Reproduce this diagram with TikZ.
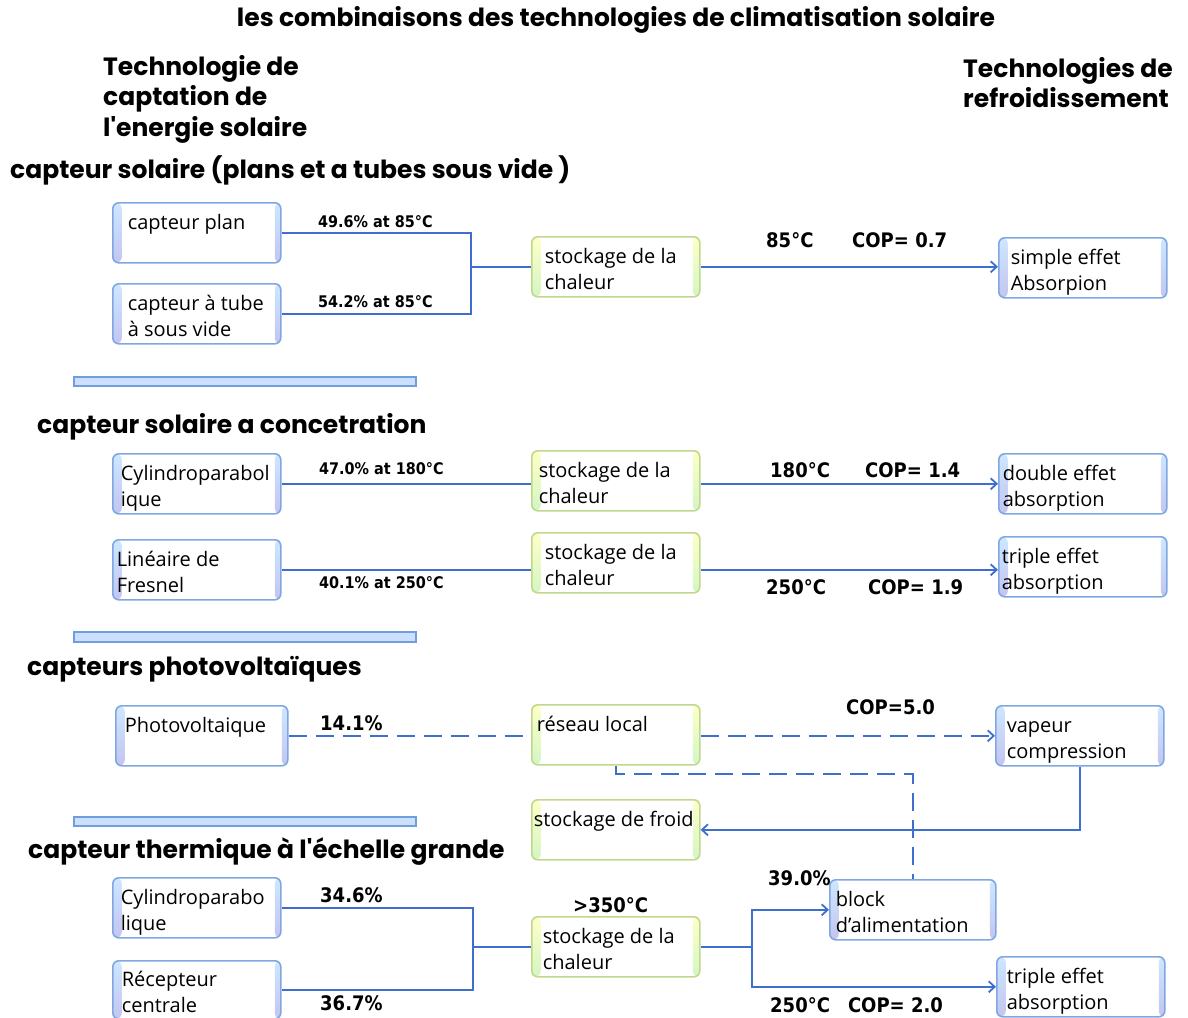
\documentclass[tikz,border=0pt]{standalone}
\usepackage{fontspec}
\setmainfont{Open Sans}
\newfontfamily\headfont{Poppins}
\newfontfamily\labfont{DejaVu Sans}[FakeStretch=0.9]
\usetikzlibrary{arrows.meta}
\definecolor{lnblue}{HTML}{3E6FCF}
\definecolor{bxblue}{HTML}{7FA8E2}
\definecolor{stripA}{HTML}{CDE7FF}
\definecolor{stripB}{HTML}{C4C4F0}
\definecolor{bxgreen}{HTML}{BFD98A}
\definecolor{gstripA}{HTML}{FFFFC8}
\definecolor{gstripB}{HTML}{D3F5C4}
\definecolor{sepfill}{HTML}{CCDFFF}
\definecolor{sepdraw}{HTML}{6E9FDA}
\newcommand\bxt[2][0pt]{\parbox[c][56pt][t]{164pt}{\raggedright\leftskip=#1\rule{0pt}{25pt}#2}}
\tikzset{
  boxbase/.style={line width=1.6pt, rounded corners=6pt, fill=white,
    minimum width=168pt, minimum height=60pt, inner sep=0pt, anchor=north west,
    font=\fontsize{20}{26}\selectfont},
  bbox/.style={boxbase, draw=bxblue,
    path picture={
      \shade[top color=stripA, bottom color=stripB] (path picture bounding box.north west) rectangle ([xshift=9pt]path picture bounding box.south west);
      \shade[top color=stripA, bottom color=stripB] ([xshift=-6pt]path picture bounding box.north east) rectangle (path picture bounding box.south east);
    }},
  gbox/.style={boxbase, draw=bxgreen,
    path picture={
      \shade[top color=gstripA, bottom color=gstripB] (path picture bounding box.north west) rectangle ([xshift=9pt]path picture bounding box.south west);
      \shade[top color=gstripA, bottom color=gstripB] ([xshift=-7pt]path picture bounding box.north east) rectangle (path picture bounding box.south east);
    }},
  ln/.style={draw=lnblue, line width=1.8pt},
  arr/.style={ln, -{Straight Barb[length=6pt,width=11pt]}},
  dsh/.style={ln, dash pattern=on 18pt off 9pt},
  darr/.style={dsh, -{Straight Barb[length=6pt,width=11pt]}},
  hd/.style={anchor=base west, inner sep=0pt, font=\headfont\bfseries\fontsize{25}{30}\selectfont},
  labs/.style={anchor=base west, inner sep=0pt, font=\labfont\bfseries\fontsize{16}{18}\selectfont},
  labb/.style={anchor=base west, inner sep=0pt, font=\labfont\bfseries\fontsize{20}{22}\selectfont},
  sepbar/.style={fill=sepfill, draw=sepdraw, line width=1.2pt},
}
\begin{document}
\begin{tikzpicture}[x=1pt,y=-1pt]
\useasboundingbox (0,0) rectangle (1188,1017);
\fill[white] (0,0) rectangle (1188,1017);

% headings
\node[hd, anchor=base] (title) at (616,27) {les combinaisons des technologies de climatisation solaire};
\node[hd] (hl1) at (103,75) {Technologie de};
\node[hd] (hl2) at (103,105) {captation de};
\node[hd] (hl3) at (103,136) {l'energie solaire};
\node[hd] (hr1) at (963,77) {Technologies de};
\node[hd] (hr2) at (963,107) {refroidissement};
\node[hd] (h1) at (10,178) {capteur solaire (plans et a tubes sous vide )};
\node[hd] (h2) at (37,433) {capteur solaire a concetration};
\node[hd] (h3) at (27,675) {capteurs photovoltaïques};
\node[hd] (h4) at (28,858) {capteur thermique à l'échelle grande};

% separators
\draw[sepbar] (74,377) rectangle (416,386);
\draw[sepbar] (74,632) rectangle (416,642);
\draw[sepbar] (74,817) rectangle (416,826);

% section 1
\node[bbox] (cp) at (112,202) {\bxt[13pt]{capteur plan}};
\node[bbox] (ct) at (112,283) {\bxt[13pt]{capteur à tube\\à sous vide}};
\node[gbox] (st1) at (531,236) {\bxt[11pt]{stockage de la\\chaleur}};
\node[bbox] (se) at (998,237) {\bxt[10pt]{simple effet\\Absorpion}};
\coordinate (j1) at (st1.west -| 471,0);
\draw[ln] (cp.east) -| (j1) |- (ct.east);
\draw[ln] (j1) -- (st1.west);
\draw[arr] (st1.east) -- (se.west |- st1.east);
\node[labs] (l1) at (318,227) {49.6\% at 85°C};
\node[labs] (l2) at (318,307) {54.2\% at 85°C};
\node[labb] (l3) at (766,247) {85°C};
\node[labb] (l4) at (852,247) {COP= 0.7};

% section 2
\node[bbox] (cy1) at (112,453) {\bxt[6pt]{Cylindroparabol\\ique}};
\node[gbox] (st2) at (531,450) {\bxt[5pt]{stockage de la\\chaleur}};
\node[bbox] (de) at (998,453) {\bxt[2pt]{double effet\\absorption}};
\draw[ln] (cy1.east) -- (st2.west |- cy1.east);
\draw[arr] (st2.east |- cy1.east) -- (de.west |- cy1.east);
\node[labs] (l5) at (319,474) {47.0\% at 180°C};
\node[labb] (l6) at (770,477) {180°C};
\node[labb] (l7) at (865,477) {COP= 1.4};

\node[bbox] (lf) at (112,539) {\bxt[2pt]{Linéaire de\\Fresnel}};
\node[gbox] (st3) at (531,532) {\bxt[11pt]{stockage de la\\chaleur}};
\node[bbox] (te1) at (998,536) {\bxt[1pt]{triple effet\\absorption}};
\draw[ln] (lf.east) -- (st3.west |- lf.east);
\draw[arr] (st3.east |- lf.east) -- (te1.west |- lf.east);
\node[labs] (l8) at (319,588) {40.1\% at 250°C};
\node[labb] (l9) at (766,594) {250°C};
\node[labb] (l10) at (868,594) {COP= 1.9};

% section 3
\node[bbox, minimum width=172pt] (pv) at (115,705) {\bxt[5pt]{Photovoltaique}};
\node[gbox] (rl) at (531,704) {\bxt[3pt]{réseau local}};
\node[bbox] (vc) at (995,705) {\bxt[9pt]{vapeur\\compression}};
\node[gbox] (sf) at (531,799) {\bxt[0pt]{stockage de froid}};
\draw[dsh] (pv.east) -- (rl.west |- pv.east);
\draw[darr] (rl.east |- pv.east) -- (vc.west |- pv.east);
\node[labb] (l11) at (320,730) {14.1\%};
\node[labb] (l12) at (846,714) {COP=5.0};
\draw[arr] (vc.south) |- (sf.east);

% section 4
\node[bbox] (cy2) at (112,877) {\bxt[6pt]{Cylindroparabo\\lique}};
\node[bbox, minimum height=58pt] (rc) at (112,960) {\bxt[7pt]{Récepteur\\centrale}};
\node[gbox] (st4) at (531,916) {\bxt[9pt]{stockage de la\\chaleur}};
\node[bbox, minimum width=166pt] (ba) at (829,879) {\bxt[5pt]{block\\d'alimentation}};
\node[bbox] (te2) at (996,956) {\bxt[8pt]{triple effet\\absorption}};
\coordinate (j2) at (st4.west -| 473,0);
\coordinate (j3) at (st4.east -| 752,0);
\draw[ln] (cy2.east) -| (j2) |- (rc.east);
\draw[ln] (j2) -- (st4.west);
\draw[ln] (st4.east) -- (j3);
\draw[arr] (j3) |- (ba.west);
\draw[arr] (j3) |- (te2.west);
\coordinate (k1) at (rl.south |- 0,774);
\draw[dsh] (rl.south) |- (k1 -| ba.north) -- (ba.north);
\node[labb] (l13) at (320,902) {34.6\%};
\node[labb] (l14) at (320,1010) {36.7\%};
\node[labb] (l15) at (573,912) {>350°C};
\node[labb] (l16) at (768,885) {39.0\%};
\node[labb] (l17) at (770,1012) {250°C\hspace{18pt}COP= 2.0};
\end{tikzpicture}
\end{document}
